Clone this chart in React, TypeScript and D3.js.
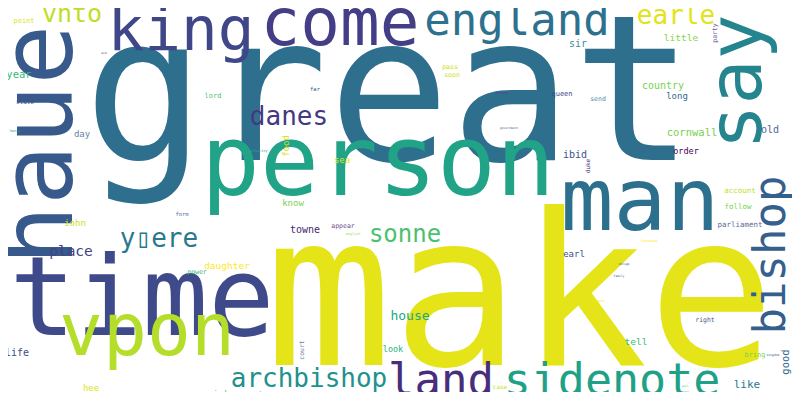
import React, { useEffect, useRef } from 'react';
import * as d3 from 'd3';

// word, relative weight (rendered font size), colour
const words = ['great', 'make', 'person', 'time', 'haue', 'man', 'vpon', 'come', 'king', 'england', 'say', 'bishop', 'sidenote', 'land', 'archbishop', 'danes', 'sonne', 'vnto', 'y\u25AFere', 'earle',
  'place', 'house', 'iohn', 'year', 'point', 'state', 'henry', 'day', 'life', 'hee', 'cornish', 'master', 'daughter', 'power', 'form', 'towne', 'appear', 'english', 'know', 'sea',
  'feod', 'lord', 'far', 'general', 'authority', 'court', 'look', 'tell', 'like', 'good', 'bring', 'kingdom', 'case', 'sail', 'right', 'regard', 'family', 'oblige', 'earl', 'thousand',
  'parliament', 'follow', 'account', 'order', 'duke', 'ibid', 'cornwall', 'old', 'long', 'country', 'send', 'queen', 'prince', 'government', 'pass', 'soon', 'little', 'party', 'sir', 'aim'];

const weights = [203, 212, 98, 110, 100, 88, 73, 66, 61, 44, 75, 44, 45, 44, 26, 26, 24, 25, 26, 26,
  14.5, 13, 9, 10.5, 7, 6, 3.5, 9, 10, 9, 9.5, 9, 9.5, 6.5, 5.5, 10, 6.5, 3.5, 9, 9,
  9, 7, 5.5, 6, 3.5, 6.5, 8.5, 9.5, 11, 10.5, 7, 3, 6, 3, 6.5, 3, 3, 3, 9, 3.5,
  7.5, 7.5, 7.5, 8.5, 6, 10, 10.5, 10, 9, 10, 6.5, 7, 3.5, 3, 6.5, 6.5, 9.5, 6.5, 10, 3];

const colours = ['#2e6f8e', '#e5e419', '#20a386', '#3e4a89', '#38598c', '#2d708e', '#b5de2b', '#433e85', '#3f4788', '#2d718e', '#25858e', '#355f8d', '#1fa187', '#472d7b', '#21918c', '#453882', '#4ac16d', '#bddf26', '#2a788e', '#e2e418',
  '#414487', '#22a884', '#c8e020', '#35b779', '#dde318', '#3b528b', '#22a884', '#6b7fa8', '#3e4a89', '#dde318', '#5ec962', '#46337e', '#fde725', '#35b779', '#5c6fa0', '#481f70', '#6b4f8c', '#a0da39', '#7ad151', '#e2e418',
  '#d8e219', '#52c569', '#3e5a8c', '#4f4588', '#25ab82', '#7582a8', '#2fb47c', '#3dbc74', '#2a788e', '#31688e', '#7ad151', '#3b528b', '#c2df23', '#6ece58', '#4a5a8c', '#f4e61e', '#31688e', '#2c5c8c', '#3b528b', '#fde725',
  '#5c6a98', '#7ad151', '#bddf26', '#440154', '#46337e', '#3b528b', '#7ad151', '#4a6a9a', '#2c6a8e', '#7ad151', '#4c8fa0', '#3e4a89', '#5a3f8a', '#4a5a8c', '#c8e020', '#d0e11c', '#86d549', '#6b5a98', '#4a8a9a', '#6b4f8c'];

// layout produced by the cloud: centre x, baseline y, rotated (-90) or not
const layoutX = [389, 520, 378, 142, 72, 640, 147, 340, 181, 517, 761, 785, 612, 441, 309, 289, 405, 72, 159, 676,
  71, 410, 75, 19, 24, 25, 15, 82, 17, 91, 210, 258, 227, 197, 182, 305, 343, 353, 293, 342,
  289, 213, 315, 250, 258, 304, 393, 636, 747, 789, 755, 773, 500, 685, 705, 599, 619, 624, 574, 649,
  740, 738, 740, 686, 590, 575, 692, 770, 677, 663, 598, 562, 502, 509, 450, 452, 681, 717, 578, 104];
const layoutY = [160, 365, 195, 335, 145, 230, 355, 45, 50, 35, 82, 255, 395, 395, 387, 125, 242, 22, 247, 24,
  256, 320, 226, 78, 23, 104, 132, 137, 356, 391, 397, 398, 269, 274, 216, 233, 228, 235, 206, 163,
  146, 98, 91, 6, 152, 350, 352, 345, 388, 362, 357, 356, 389, 387, 322, 302, 277, 265, 257, 242,
  227, 209, 193, 154, 166, 158, 136, 133, 99, 89, 101, 96, 94, 129, 69, 77, 41, 33, 47, 54];
const rotated = [0, 0, 0, 0, 1, 0, 0, 0, 0, 0, 1, 1, 0, 0, 0, 0, 0, 0, 0, 0,
  0, 0, 0, 0, 0, 0, 0, 0, 0, 0, 0, 0, 0, 0, 0, 0, 0, 0, 0, 0,
  1, 0, 0, 0, 0, 1, 0, 0, 0, 1, 0, 0, 0, 0, 0, 0, 0, 0, 0, 0,
  0, 0, 0, 0, 1, 0, 0, 0, 0, 0, 0, 0, 0, 0, 0, 0, 0, 1, 0, 0];

const WordCloud = () => {
  const svgRef = useRef(null);

  useEffect(() => {
    const width = 800;
    const height = 400;
    const svg = d3.select(svgRef.current);
    svg.attr('width', width).attr('height', height).selectAll('*').remove();

    svg.append('rect').attr('width', width).attr('height', height).attr('fill', '#ffffff');

    const size = d3.scaleLinear().domain([0, 1]).range([0, 1]);
    const data = words.map((w, i) => ({ w, i }));

    svg.selectAll('text.word')
      .data(data)
      .enter()
      .append('text')
      .attr('class', 'word')
      .attr('transform', d => `translate(${layoutX[d.i]},${layoutY[d.i]})${rotated[d.i] ? ' rotate(-90)' : ''}`)
      .attr('text-anchor', 'middle')
      .attr('font-family', '"DejaVu Sans Mono", monospace')
      .attr('font-size', d => size(weights[d.i]))
      .attr('fill', d => colours[d.i])
      .text(d => d.w);
  }, []);

  return <svg ref={svgRef} style={{ display: 'block' }}></svg>;
};

export default function App() {
  return (
    <div style={{ margin: -8 }}>
      <WordCloud />
    </div>
  );
}
